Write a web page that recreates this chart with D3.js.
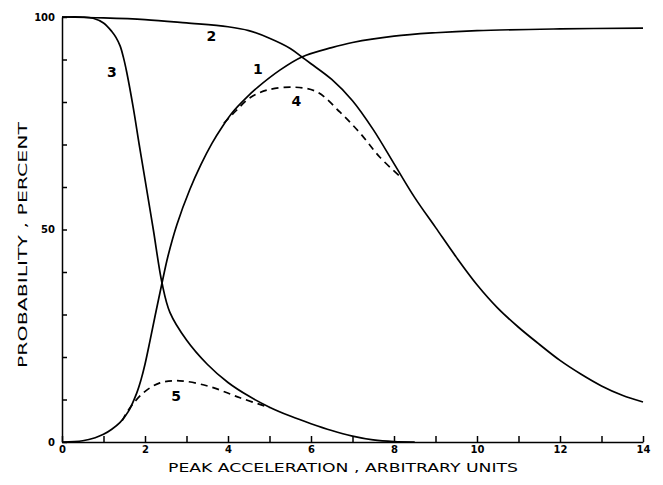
<!DOCTYPE html>
<html>
<head>
<meta charset="utf-8">
<script src="https://cdn.jsdelivr.net/npm/d3@7"></script>
<style>
  body { margin: 0; background: #fff; }
  .tick text { font-family: "DejaVu Sans", sans-serif; font-weight: bold; font-size: 10px; }
  .lbl { font-family: "DejaVu Sans", sans-serif; font-size: 13px; }
</style>
</head>
<body>
<svg id="chart" width="663" height="485"></svg>
<script>
// curve 1 - rising
var x1 = [0, 0.5, 0.8, 1, 1.2, 1.4, 1.6, 1.8, 1.9, 2, 2.12, 2.25, 2.41, 2.55, 2.77, 3.08, 3.35, 3.61, 3.87, 4.12, 4.42, 4.72, 5.25, 5.78, 6.5, 7, 8, 9, 10, 12, 14];
var y1 = [0, 0.3, 1, 1.8, 3, 4.6, 7.2, 11.5, 14.5, 18.3, 23.8, 30, 37.4, 43.6, 51.2, 59.4, 65.3, 70.2, 74.3, 77.7, 80.8, 83.5, 87.5, 90.6, 92.8, 94, 95.5, 96.3, 96.8, 97.2, 97.4];
// curve 2 - slow fall
var x2 = [0, 1, 2, 3, 4, 4.5, 5, 5.5, 5.78, 6, 6.5, 7, 7.5, 8, 8.5, 9, 9.5, 10, 10.5, 11, 11.5, 12, 12.5, 13, 13.5, 14];
var y2 = [100, 99.8, 99.4, 98.6, 97.7, 96.8, 95, 92.6, 90.6, 89, 85.3, 80.3, 73.5, 65.5, 57.5, 50.5, 43.5, 37, 31.5, 27, 23, 19.2, 16, 13.2, 11, 9.4];
// curve 3 - steep fall
var x3 = [0, 0.5, 0.75, 1, 1.2, 1.3, 1.4, 1.48, 1.56, 1.72, 1.86, 2, 2.2, 2.41, 2.6, 3, 3.5, 4, 4.5, 5, 5.5, 6, 6.5, 7, 7.5, 8, 8.5];
var y3 = [100, 100, 99.7, 98.6, 96.6, 95.2, 93.2, 90.5, 87, 78.5, 70, 61.8, 50, 37.4, 30.5, 24, 18.3, 14, 10.8, 8.2, 6.1, 4.3, 2.7, 1.4, 0.5, 0.1, 0];
// curve 4 - dashed, upper
var x4 = [3.9, 4.2, 4.53, 4.94, 5.57, 6.14, 6.7, 7.18, 7.66, 8.2];
var y4 = [75, 78, 81, 82.8, 83.5, 82.4, 77.6, 72.7, 67, 62];
// curve 5 - dashed, lower
var x5 = [1.45, 1.57, 1.95, 2.36, 2.84, 3.57, 4.29, 5.0];
var y5 = [5, 7.1, 11.5, 13.9, 14.4, 13, 10.4, 8.1];

// curve numbers
var labelText = ["1", "2", "3", "4", "5"];
var labelX = [4.72, 3.6, 1.2, 5.65, 2.75];
var labelY = [87.5, 95.3, 86.8, 80, 10.6];

var xTicks = d3.range(0, 15, 1);
var yTicks = d3.range(0, 101, 10);

var svg = d3.select("#chart");
var mLeft = 62, mTop = 17, w = 581, h = 425;

var x = d3.scaleLinear().domain([0, 14]).range([mLeft, mLeft + w]);
var y = d3.scaleLinear().domain([0, 100]).range([mTop + h, mTop]);

// axes
svg.append("g")
    .attr("transform", "translate(0," + (mTop + h) + ")")
    .call(d3.axisBottom(x).tickValues(xTicks).tickSize(-6).tickSizeOuter(0).tickPadding(4)
        .tickFormat(function(d) { return d % 2 == 0 ? d : ""; }))
    .call(function(g) { g.selectAll("line, path").attr("stroke", "#000").attr("stroke-width", 1.5); });

svg.append("g")
    .attr("transform", "translate(" + mLeft + ",0)")
    .call(d3.axisLeft(y).tickValues(yTicks).tickSize(-5).tickSizeOuter(0).tickPadding(7)
        .tickFormat(function(d) { return d % 50 == 0 ? d : ""; }))
    .call(function(g) { g.selectAll("line, path").attr("stroke", "#000").attr("stroke-width", 1.5); });

// curves
var line = d3.line()
    .x(function(d) { return x(d[0]); })
    .y(function(d) { return y(d[1]); })
    .curve(d3.curveCatmullRom.alpha(0.5));

var curves = [[x1, y1, null], [x2, y2, null], [x3, y3, null], [x4, y4, "7,5"], [x5, y5, "7,5"]];
curves.forEach(function(c) {
    svg.append("path")
        .datum(d3.zip(c[0], c[1]))
        .attr("d", line)
        .attr("fill", "none")
        .attr("stroke", "#000")
        .attr("stroke-width", 1.7)
        .attr("stroke-dasharray", c[2]);
});

// curve numbers
labelText.forEach(function(t, i) {
    svg.append("text")
        .attr("class", "lbl")
        .attr("x", x(labelX[i]))
        .attr("y", y(labelY[i]))
        .attr("text-anchor", "middle")
        .attr("dominant-baseline", "middle")
        .style("font-weight", "bold")
        .style("font-size", "14px")
        .text(t);
});

// axis titles
svg.append("text")
    .attr("class", "lbl")
    .attr("x", 343)
    .attr("y", 472)
    .attr("text-anchor", "middle")
    .attr("textLength", 350)
    .attr("lengthAdjust", "spacingAndGlyphs")
    .text("PEAK ACCELERATION , ARBITRARY UNITS");

svg.append("text")
    .attr("class", "lbl")
    .attr("transform", "translate(27,245) rotate(-90)")
    .attr("text-anchor", "middle")
    .attr("textLength", 246)
    .attr("lengthAdjust", "spacingAndGlyphs")
    .text("PROBABILITY , PERCENT");
</script>
</body>
</html>
